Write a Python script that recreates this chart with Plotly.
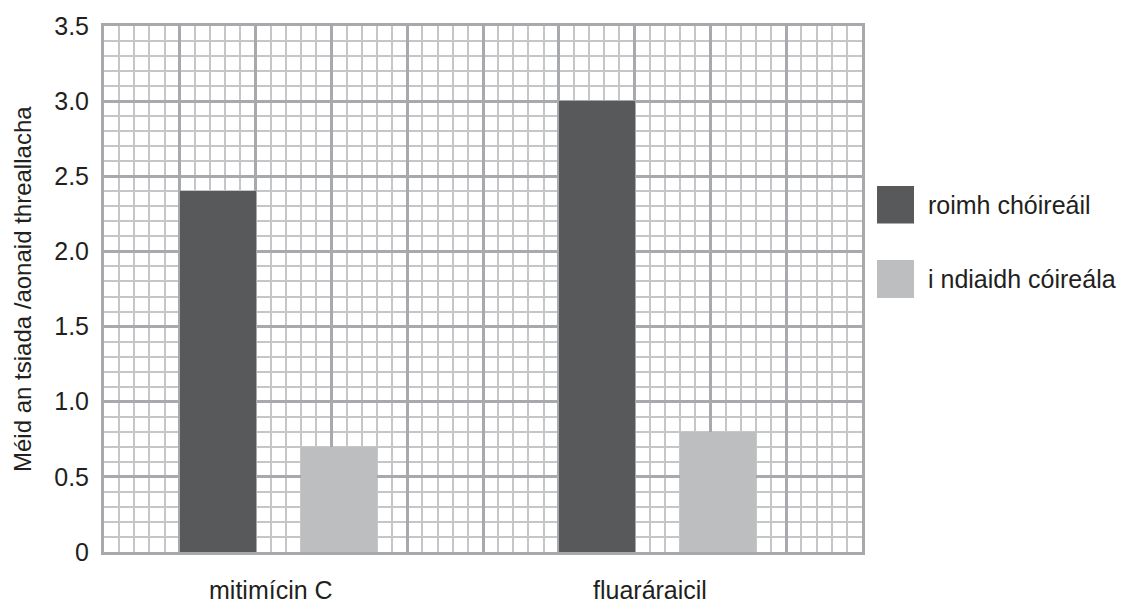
import plotly.graph_objects as go

categories = ["mitimícin C", "fluaráraicil"]
series_names = ["roimh chóireáil", "i ndiaidh cóireála"]
before_values = [2.4, 3.0]
after_values = [0.7, 0.8]
y_title = "Méid an tsiada /aonaid threallacha"
y_tick_vals = [0, 0.5, 1.0, 1.5, 2.0, 2.5, 3.0, 3.5]
y_tick_text = ["0", "0.5", "1.0", "1.5", "2.0", "2.5", "3.0", "3.5"]

colors = ["#58595b", "#bcbec0"]
font = "Liberation Sans, Arial, Helvetica, sans-serif"
txt = "#231f20"

group_step = 5
group_start = [i * group_step for i in range(len(categories))]
before_x = [g + 1.5 for g in group_start]
after_x = [g + 3.1 for g in group_start]
label_x = [g + 2.2 for g in group_start]

fig = go.Figure()
fig.add_trace(go.Bar(x=before_x, y=before_values, width=1.0, name=series_names[0],
                     marker=dict(color=colors[0], line=dict(width=0)), showlegend=False))
fig.add_trace(go.Bar(x=after_x, y=after_values, width=1.0, name=series_names[1],
                     marker=dict(color=colors[1], line=dict(width=0)), showlegend=False))

major_col = "#a7a9ac"
minor_col = "#c4c6c8"

fig.update_xaxes(range=[0, 10], dtick=1, tick0=0, showticklabels=False, ticks="",
                 showgrid=True, gridcolor=major_col, gridwidth=3,
                 minor=dict(dtick=0.2, tick0=0, showgrid=True, gridcolor=minor_col, gridwidth=1.5),
                 showline=True, linecolor=major_col, linewidth=3, mirror=True, zeroline=False)
fig.update_yaxes(range=[0, 3.5], tickvals=y_tick_vals, ticktext=y_tick_text,
                 ticks="", ticklabelstandoff=7, showgrid=True, gridcolor=major_col, gridwidth=3,
                 minor=dict(dtick=0.1, tick0=0, showgrid=True, gridcolor=minor_col, gridwidth=1.5),
                 showline=True, linecolor=major_col, linewidth=3, mirror=True, zeroline=False,
                 tickfont=dict(size=25, color=txt, family=font))

annotations = []
annotations.append(dict(x=-82 / 758, y=0.5, xref="paper", yref="paper", text=y_title,
                        textangle=-90, showarrow=False, xanchor="center", yanchor="middle",
                        font=dict(size=24, color=txt, family=font)))
for lx, c in zip(label_x, categories):
    annotations.append(dict(x=lx, y=-38 / 530, xref="x", yref="paper", text=c, showarrow=False,
                            yanchor="middle", font=dict(size=25, color=txt, family=font)))

shapes = []
leg_y = [(0.696, 0.6245), (0.555, 0.483)]
for (y1, y0), name, col in zip(leg_y, series_names, colors):
    shapes.append(dict(type="rect", xref="paper", yref="paper", x0=1.0198, x1=1.0686,
                       y0=y0, y1=y1, fillcolor=col, line=dict(width=0)))
    annotations.append(dict(x=(926 - 104) / 758, y=(y0 + y1) / 2, xref="paper", yref="paper", text=name,
                            showarrow=False, xanchor="left", yanchor="middle",
                            font=dict(size=25, color=txt, family=font)))

fig.update_layout(width=1129, height=610, margin=dict(l=104, r=267, t=22, b=58),
                  paper_bgcolor="white", plot_bgcolor="white",
                  shapes=shapes, annotations=annotations, barmode="overlay", bargap=0)

fig.write_html("out.html", config={"displayModeBar": False},
               post_script="document.body.style.margin='0';")
